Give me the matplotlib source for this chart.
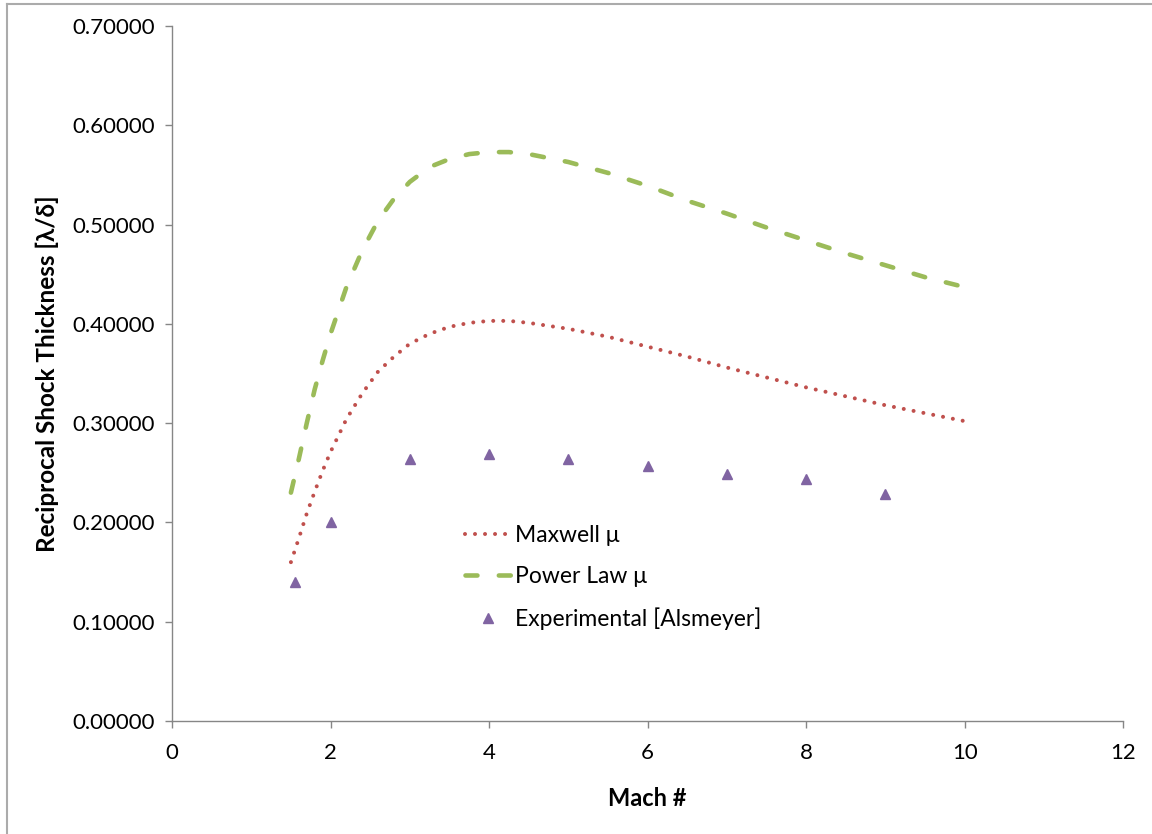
import matplotlib
matplotlib.use("Agg")
import matplotlib.pyplot as plt
from matplotlib.lines import Line2D

plt.rcParams['font.family'] = ['Lato', 'DejaVu Sans']
plt.rcParams['lines.scale_dashes'] = False

# Mach number grid for the two model curves
mach = [1.5, 1.6, 1.7, 1.8, 1.9, 2.0, 2.2, 2.4, 2.6, 2.8, 3.0, 3.25, 3.5,
        3.75, 4.0, 4.25, 4.5, 5.0, 5.5, 6.0, 6.5, 7.0, 7.5, 8.0, 8.5, 9.0,
        9.5, 10.0]

# Reciprocal shock thickness, Maxwell viscosity model
maxwell = [0.160, 0.184, 0.209, 0.231, 0.252, 0.271, 0.304, 0.330, 0.352,
           0.367, 0.380, 0.390, 0.397, 0.401, 0.403, 0.403, 0.401, 0.395,
           0.387, 0.377, 0.367, 0.356, 0.346, 0.336, 0.327, 0.318, 0.310,
           0.302]

# Reciprocal shock thickness, power-law viscosity model
power_law = [0.230, 0.264, 0.300, 0.334, 0.363, 0.390, 0.437, 0.474, 0.504,
             0.526, 0.543, 0.558, 0.566, 0.571, 0.573, 0.573, 0.571, 0.563,
             0.552, 0.539, 0.524, 0.511, 0.497, 0.484, 0.471, 0.459, 0.447,
             0.437]

# Experimental data (Alsmeyer)
exp_mach = [1.55, 2.0, 3.0, 4.0, 5.0, 6.0, 7.0, 8.0, 9.0]
exp_vals = [0.140, 0.200, 0.264, 0.269, 0.264, 0.257, 0.249, 0.244, 0.229]

x_ticks = [0, 2, 4, 6, 8, 10, 12]
y_ticks = [0.0, 0.1, 0.2, 0.3, 0.4, 0.5, 0.6, 0.7]

W, H = 1152, 834
fig = plt.figure(figsize=(W / 100, H / 100), dpi=100)
ax = fig.add_axes([172 / W, 1 - 721 / H, (1123.3 - 172) / W, (721 - 26) / H])

ax.plot(mach, maxwell, color='#C0504D', lw=2.9, dashes=(0.01, 7.2),
        dash_capstyle='round', label='Maxwell μ')
ax.plot(mach, power_law, color='#9BBB59', lw=3.3, dashes=(8.6, 15.4),
        dash_capstyle='round', label='Power Law μ')
ax.plot(exp_mach, exp_vals, linestyle='none', marker='^', markersize=7.2,
        color='#8064A2', markeredgecolor='#8064A2',
        label='Experimental [Alsmeyer]')

ax.set_xlim(0, 12)
ax.set_ylim(0, 0.7)
ax.set_xticks(x_ticks)
ax.set_yticks(y_ticks)
ax.set_yticklabels([f"{v:.5f}" for v in y_ticks])
ax.set_xticklabels([str(v) for v in x_ticks])

axis_grey = '#868686'
for side in ('top', 'right'):
    ax.spines[side].set_visible(False)
for side in ('left', 'bottom'):
    ax.spines[side].set_color(axis_grey)
    ax.spines[side].set_linewidth(1.0)
ax.tick_params(axis='both', direction='out', length=5, width=1.0,
               color=axis_grey, labelsize=16, labelcolor='black')
ax.tick_params(axis='x', pad=11)
ax.tick_params(axis='y', pad=7)

ax.set_xlabel('Mach #', fontsize=17, fontweight='bold', labelpad=17)
ax.set_ylabel('Reciprocal Shock Thickness [λ/δ]', fontsize=17.5,
              fontweight='bold', labelpad=10)

leg = ax.legend(loc='upper left', bbox_to_anchor=(444 / W, 1 - 504 / H),
                bbox_transform=fig.transFigure, frameon=False, fontsize=16.5,
                handlelength=2.05, handletextpad=0.15, labelspacing=0.88)

# thin grey frame around the chart area
frame_kw = dict(color='#ABABAB', lw=1.5, transform=fig.transFigure)
fig.add_artist(Line2D([6.5 / W, 6.5 / W], [0, 1 - 4 / H], **frame_kw))
fig.add_artist(Line2D([6.5 / W, 1], [1 - 4 / H, 1 - 4 / H], **frame_kw))

fig.savefig('out.png', dpi=100)
